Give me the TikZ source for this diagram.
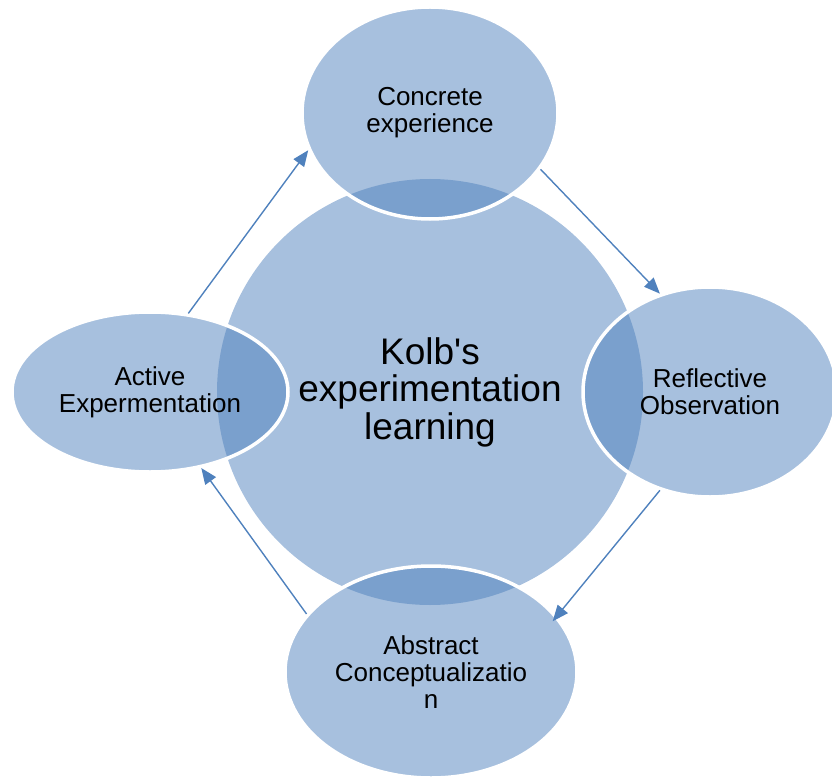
\documentclass[tikz,border=0pt]{standalone}
\usepackage{fontspec}
\setmainfont{Liberation Sans}[Ligatures=TeXOff]
\usepackage{tikz}
\usetikzlibrary{shapes.geometric,arrows.meta}

\definecolor{kolbblue}{HTML}{4F81BD}

\begin{document}
\begin{tikzpicture}[x=1pt,y=-1pt,
    stage/.style={ellipse, inner sep=0pt, fill=kolbblue, fill opacity=0.5,
        draw=white, line width=3.5pt, text opacity=1, align=center,
        font=\fontsize{26}{27}\selectfont},
    flow/.style={draw=kolbblue, line width=1.4pt,
        -{Triangle[length=16pt,width=13pt]}}]
    \useasboundingbox (0,0) rectangle (832,778);

    % Hub of the cycle
    \node[circle, inner sep=0pt, minimum size=426pt, fill=kolbblue!50, align=center,
        font=\fontsize{37}{37.5}\selectfont] (hub) at (430,392)
        {Kolb's\\experimentation\\learning};

    % The four stages
    \node[stage, minimum width=256pt, minimum height=212pt] (concrete) at (430,113)
        {Concrete\\experience};
    \node[stage, minimum width=254pt, minimum height=210pt] (reflective) at (710,392)
        {Reflective\\Observation};
    \node[stage, minimum width=292pt, minimum height=212pt] (abstract) at (431,672)
        {Abstract\\Conceptualizatio\\n};
    \node[stage, minimum width=276pt, minimum height=160pt] (active) at (150,392)
        {Active\\Expermentation};

    % Arrows round the cycle
    \draw[flow] (concrete.-27) -- (reflective.117);
    \draw[flow, shorten >=-7pt] (reflective.243) -- (abstract.24);
    \draw[flow] (abstract.155) -- (active.-56);
    \draw[flow] (active.64) -- (concrete.-163);
\end{tikzpicture}
\end{document}
